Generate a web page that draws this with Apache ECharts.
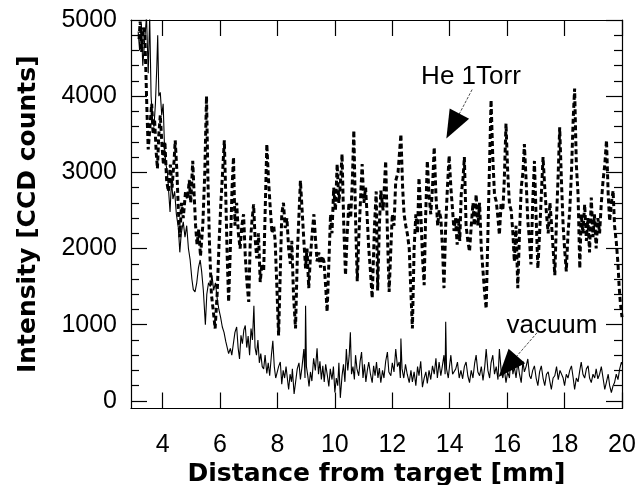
<!DOCTYPE html>
<html><head><meta charset="utf-8">
<script src="https://cdn.jsdelivr.net/npm/echarts@6/dist/echarts.min.js"></script>
<style>html,body{margin:0;padding:0;background:#fff}#c{width:636px;height:485px}</style>
</head><body><div id="c"></div><script>
const xTicks=[4,6,8,10,12,14,16,18,20];
const yTicks=[0,1000,2000,3000,4000,5000];
const yMinorTicks=[200,400,600,800,1200,1400,1600,1800,2200,2400,2600,2800,3200,3400,3600,3800,4200,4400,4600,4800];
const xTitle='Distance from target [mm]';
const yTitle='Intensity [CCD counts]';
const heName='He 1Torr';
const vacName='vacuum';
const heData=[[3.18,4750],[3.22,4980],[3.27,4580],[3.33,4900],[3.38,4820],[3.42,4300],[3.46,3750],[3.5,3300],[3.56,3600],[3.62,3900],[3.67,3500],[3.72,3700],[3.78,3250],[3.82,3050],[3.87,3500],[3.92,3750],[3.98,3350],[4.03,3100],[4.08,3400],[4.14,2900],[4.2,2750],[4.27,3100],[4.33,2800],[4.4,3150],[4.44,3420],[4.5,3000],[4.55,2500],[4.6,2150],[4.66,2600],[4.72,2400],[4.8,2750],[4.87,2650],[4.93,2900],[4.98,2600],[5.05,3150],[5.1,2700],[5.15,2300],[5.2,2050],[5.26,2250],[5.32,1900],[5.4,2300],[5.47,3000],[5.53,4000],[5.58,2900],[5.63,2100],[5.7,1400],[5.76,1200],[5.83,950],[5.9,1400],[5.97,2100],[6.03,2600],[6.09,3000],[6.15,3420],[6.2,2700],[6.25,1900],[6.3,1300],[6.36,2000],[6.42,2800],[6.47,3200],[6.52,2300],[6.58,2600],[6.64,2200],[6.7,2000],[6.76,2300],[6.82,2450],[6.88,1900],[6.94,1550],[7.0,1300],[7.05,2050],[7.11,2350],[7.17,2580],[7.22,2150],[7.28,1870],[7.34,2200],[7.4,1560],[7.46,1800],[7.52,1700],[7.58,2600],[7.63,3370],[7.69,2900],[7.75,2530],[7.81,2200],[7.87,2300],[7.92,2100],[7.98,1500],[8.04,860],[8.1,1700],[8.15,2450],[8.21,2600],[8.27,2270],[8.33,2400],[8.39,2000],[8.45,1800],[8.5,2100],[8.56,1390],[8.63,950],[8.7,2000],[8.8,2890],[8.86,2500],[8.92,2100],[8.98,1740],[9.03,2000],[9.09,1480],[9.15,1900],[9.21,2200],[9.27,2450],[9.33,2100],[9.38,1830],[9.44,1950],[9.5,1750],[9.56,1900],[9.62,1830],[9.68,1500],[9.73,1170],[9.79,1800],[9.85,2450],[9.9,2200],[9.96,2800],[10.02,2500],[10.08,3110],[10.14,2600],[10.2,2900],[10.25,3240],[10.31,2300],[10.37,1650],[10.43,2200],[10.49,2600],[10.55,2400],[10.61,2900],[10.66,3550],[10.72,2400],[10.78,1570],[10.84,2200],[10.9,2700],[10.95,3110],[11.01,2600],[11.07,2800],[11.12,2450],[11.18,2000],[11.24,1700],[11.3,1350],[11.38,2300],[11.44,2750],[11.49,1450],[11.55,2300],[11.6,2760],[11.68,2500],[11.77,3150],[11.83,2200],[11.89,1430],[11.95,2000],[12.0,2450],[12.06,2300],[12.12,2890],[12.2,3000],[12.3,3500],[12.36,2800],[12.41,2450],[12.47,2300],[12.53,2180],[12.59,2000],[12.64,1500],[12.7,950],[12.76,2000],[12.82,2450],[12.88,2200],[12.93,2930],[12.99,2500],[13.05,1900],[13.11,1520],[13.16,2400],[13.22,3150],[13.28,2700],[13.34,2450],[13.4,2800],[13.46,3330],[13.52,2700],[13.58,2300],[13.63,2500],[13.69,2400],[13.75,2000],[13.8,1480],[13.86,2300],[13.92,2800],[13.98,3220],[14.04,2800],[14.1,2500],[14.15,2230],[14.2,2400],[14.26,2050],[14.3,2400],[14.35,2100],[14.4,2710],[14.46,2900],[14.51,3200],[14.57,2300],[14.63,2100],[14.69,1960],[14.75,2300],[14.81,2600],[14.86,2300],[14.92,2710],[14.98,2300],[15.04,2600],[15.1,2000],[15.16,1700],[15.22,1400],[15.27,1210],[15.33,2200],[15.38,3000],[15.44,3950],[15.5,3200],[15.56,2700],[15.62,2620],[15.68,2400],[15.73,2180],[15.79,2600],[15.85,2500],[15.9,2900],[15.96,3640],[16.02,3000],[16.08,2580],[16.14,2500],[16.2,2200],[16.25,1830],[16.31,2300],[16.37,1480],[16.43,2200],[16.49,2800],[16.55,3000],[16.6,3370],[16.66,2900],[16.72,2360],[16.78,2100],[16.83,1790],[16.89,2600],[16.95,3150],[17.01,2400],[17.07,1740],[17.13,2200],[17.19,2700],[17.25,3200],[17.31,2800],[17.37,2450],[17.43,2200],[17.49,2600],[17.55,2300],[17.6,2000],[17.66,1650],[17.72,2400],[17.78,3000],[17.83,3590],[17.89,2900],[17.95,2300],[18.0,2000],[18.06,1700],[18.12,2200],[18.18,2500],[18.24,3000],[18.3,3700],[18.35,4100],[18.41,3100],[18.47,2710],[18.53,1740],[18.58,2450],[18.64,2200],[18.7,2580],[18.76,2100],[18.81,2400],[18.87,1950],[18.93,2670],[18.99,2150],[19.04,2450],[19.1,2000],[19.16,2400],[19.22,2200],[19.28,2600],[19.34,2890],[19.4,3100],[19.46,3420],[19.52,2700],[19.57,2360],[19.63,2600],[19.69,2760],[19.74,2300],[19.8,2090],[19.86,1800],[19.9,1500],[19.94,1300],[20.0,1100]];
const vacData=[[3.15,4850],[3.2,4600],[3.26,4950],[3.31,4400],[3.37,4700],[3.44,5050],[3.5,4300],[3.55,5050],[3.6,4000],[3.65,3700],[3.7,3600],[3.75,3900],[3.8,4400],[3.83,4800],[3.87,4000],[3.92,4050],[3.97,3750],[4.02,3900],[4.07,3300],[4.12,3100],[4.17,3000],[4.22,2700],[4.26,2480],[4.31,2900],[4.36,2650],[4.42,2750],[4.48,2450],[4.55,2270],[4.6,1950],[4.65,2200],[4.72,2350],[4.78,2150],[4.84,2300],[4.9,2000],[4.96,1850],[5.02,1600],[5.07,1460],[5.13,1430],[5.19,1550],[5.25,1750],[5.31,1850],[5.36,1700],[5.42,1450],[5.49,1000],[5.54,1400],[5.6,1550],[5.66,1500],[5.72,1650],[5.78,1450],[5.84,1550],[5.9,1350],[5.96,1200],[6.02,1100],[6.08,970],[6.14,900],[6.2,780],[6.25,800],[6.3,620],[6.36,690],[6.41,600],[6.46,620],[6.52,900],[6.58,970],[6.63,700],[6.68,550],[6.73,860],[6.78,750],[6.83,930],[6.88,990],[6.93,700],[6.98,850],[7.03,600],[7.08,950],[7.13,800],[7.18,1250],[7.22,700],[7.27,600],[7.32,800],[7.37,500],[7.42,620],[7.47,450],[7.52,420],[7.57,600],[7.63,360],[7.68,500],[7.73,330],[7.79,600],[7.84,790],[7.89,450],[7.94,300],[7.99,290],[8.04,450],[8.1,510],[8.15,220],[8.2,400],[8.25,300],[8.3,450],[8.35,280],[8.39,150],[8.44,350],[8.49,250],[8.52,420],[8.58,90],[8.63,240],[8.69,420],[8.75,500],[8.8,280],[8.86,460],[8.92,680],[8.96,300],[8.98,1250],[9.01,450],[9.06,320],[9.1,190],[9.15,380],[9.2,260],[9.26,560],[9.32,400],[9.38,690],[9.43,350],[9.48,520],[9.53,280],[9.58,460],[9.63,250],[9.68,480],[9.74,330],[9.79,190],[9.84,420],[9.9,280],[9.95,450],[10.0,110],[10.05,300],[10.1,200],[10.14,500],[10.19,40],[10.25,330],[10.3,480],[10.35,250],[10.4,680],[10.45,400],[10.5,600],[10.54,900],[10.58,350],[10.63,450],[10.68,280],[10.72,600],[10.77,420],[10.83,330],[10.88,520],[10.93,640],[10.98,300],[11.03,480],[11.08,250],[11.13,400],[11.18,510],[11.24,350],[11.3,240],[11.35,460],[11.4,330],[11.45,510],[11.5,300],[11.55,430],[11.6,240],[11.66,400],[11.71,300],[11.77,520],[11.83,640],[11.88,380],[11.95,330],[12.0,500],[12.06,380],[12.12,680],[12.18,450],[12.24,510],[12.28,300],[12.3,820],[12.34,420],[12.4,300],[12.46,480],[12.52,350],[12.59,240],[12.65,400],[12.7,250],[12.76,380],[12.82,200],[12.88,450],[12.93,330],[12.99,520],[13.05,180],[13.11,300],[13.17,380],[13.22,230],[13.28,400],[13.34,280],[13.4,460],[13.46,350],[13.52,560],[13.57,300],[13.63,510],[13.69,330],[13.74,450],[13.8,600],[13.84,350],[13.86,1040],[13.89,420],[13.95,300],[14.0,480],[14.04,600],[14.1,350],[14.15,330],[14.21,420],[14.27,510],[14.33,300],[14.39,400],[14.45,290],[14.51,450],[14.57,510],[14.63,330],[14.69,240],[14.75,400],[14.81,300],[14.87,500],[14.92,600],[14.98,380],[15.04,330],[15.1,450],[15.16,270],[15.22,450],[15.27,680],[15.33,400],[15.39,300],[15.44,500],[15.5,600],[15.56,350],[15.62,450],[15.68,280],[15.73,680],[15.79,400],[15.85,300],[15.9,420],[15.96,240],[16.02,380],[16.08,300],[16.14,640],[16.2,350],[16.25,450],[16.31,300],[16.37,510],[16.43,350],[16.49,240],[16.55,520],[16.6,380],[16.66,450],[16.72,550],[16.78,330],[16.83,290],[16.89,400],[16.95,460],[17.01,300],[17.07,200],[17.13,380],[17.19,460],[17.25,300],[17.31,200],[17.37,350],[17.43,380],[17.49,250],[17.54,150],[17.6,300],[17.66,330],[17.72,450],[17.78,280],[17.84,400],[17.89,420],[17.95,300],[18.0,200],[18.06,350],[18.12,300],[18.18,400],[18.24,460],[18.3,300],[18.35,150],[18.41,300],[18.47,250],[18.53,400],[18.58,510],[18.64,350],[18.7,300],[18.76,420],[18.82,460],[18.87,300],[18.93,240],[18.99,350],[19.05,300],[19.1,420],[19.16,290],[19.22,350],[19.28,450],[19.34,300],[19.4,150],[19.46,250],[19.52,350],[19.57,200],[19.63,110],[19.69,200],[19.74,240],[19.8,350],[19.86,280],[19.92,420],[19.98,510],[20.0,480]];
// annotation anchors (data coordinates)
const heTextAt=[14.74,4258];
const heArrow=[[14.78,4087],[14.11,3607]];
const vacTextAt=[17.56,986];
const vacArrow=[[17.04,894],[16.02,451]];

const FONT='"Liberation Sans", Arial, Helvetica, sans-serif';
const black='#000';
const axisLine={show:true,onZero:false,lineStyle:{color:black,width:1.2}};
const tickStyle={color:black,width:1.2};
function xAx(pos,showLabel){
  return {type:'value',min:2.9,max:20,position:pos,axisLine:axisLine,
    axisTick:{show:true,inside:true,length:16,customValues:xTicks,lineStyle:tickStyle},
    axisLabel:{show:showLabel,customValues:xTicks,fontSize:25,color:black,fontFamily:FONT,margin:24,formatter:v=>String(v)},
    splitLine:{show:false},minorTick:{show:false}};
}
function yAx(pos,major,showLabel){
  return {type:'value',min:-100,max:5000,position:pos,
    axisLine:major?axisLine:{show:false},
    axisTick:{show:true,inside:true,length:major?16:8,customValues:major?yTicks:yMinorTicks,lineStyle:tickStyle},
    axisLabel:{show:showLabel,customValues:yTicks,fontSize:25,color:black,fontFamily:FONT,margin:14,formatter:v=>String(v)},
    splitLine:{show:false}};
}
const titleStyle={fontFamily:'"DejaVu Sans", sans-serif',fontWeight:'bold',fontSize:25,color:black};
const xb=xAx('bottom',true);
xb.name=xTitle;xb.nameLocation='middle';xb.nameGap=40;xb.nameTextStyle=titleStyle;
const yl=yAx('left',true,true);
yl.name=yTitle;yl.nameLocation='middle';yl.nameGap=90;yl.nameTextStyle=titleStyle;

function arrow(pts){
  return {silent:true,animation:false,symbol:['none','triangle'],
    lineStyle:{type:'dashed',width:0.7,color:black},label:{show:false},
    data:[[{coord:pts[0],symbol:'none'},{coord:pts[1],symbol:'triangle',symbolSize:[22,28]}]]};
}
function textMark(name,at){
  return {silent:true,animation:false,symbol:'rect',symbolSize:1,itemStyle:{color:'rgba(0,0,0,0)'},
    label:{show:true,position:'inside',formatter:name,fontSize:26,color:black,fontFamily:FONT},
    data:[{coord:at,name:name}]};
}

const chart=echarts.init(document.getElementById('c'),null,{renderer:'canvas'});
chart.setOption({
  animation:false,
  backgroundColor:'#fff',
  grid:{left:131,right:14,top:20,bottom:76.5,containLabel:false,outerBoundsMode:'none'},
  xAxis:[xb,xAx('top',false)],
  yAxis:[yl,yAx('left',false,false),yAx('right',true,false),yAx('right',false,false)],
  series:[
    {name:vacName,type:'line',xAxisIndex:0,yAxisIndex:0,data:vacData,showSymbol:false,symbol:'none',
     lineStyle:{color:black,width:1.1},clip:true,
     markLine:arrow(vacArrow),markPoint:textMark(vacName,vacTextAt)},
    {name:heName,type:'line',xAxisIndex:0,yAxisIndex:0,data:heData,showSymbol:false,symbol:'none',
     lineStyle:{color:black,width:3,type:[5,3],cap:'butt'},clip:true,
     markLine:arrow(heArrow),markPoint:textMark(heName,heTextAt)}
  ]
});
</script></body></html>
